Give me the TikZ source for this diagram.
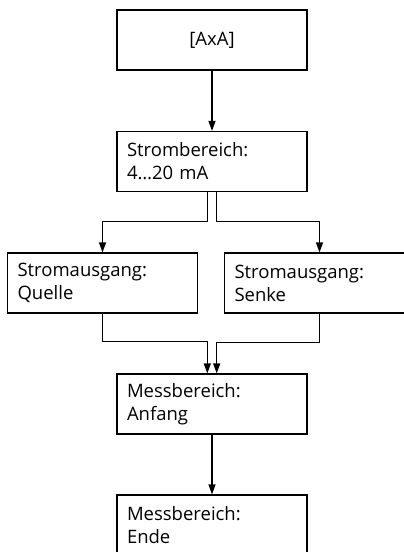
\documentclass[tikz,border=0pt]{standalone}
\usepackage{fontspec}
\setmainfont{Open Sans}
\usetikzlibrary{arrows.meta}
\tikzset{
  box/.style={draw, line width=1.2pt, minimum width=190pt, minimum height=60pt,
    text width=170pt, align=left, inner xsep=10pt,
    font=\fontsize{18.5pt}{23pt}\selectfont},
  arr/.style={line width=1.2pt, -{Triangle[length=10pt,width=7pt]}}
}
\begin{document}
\begin{tikzpicture}
			[x=1pt, y=-1pt]
			\useasboundingbox (0,0) rectangle (404,552);
			\clip (0,0) rectangle (404,552);
			\node[box, align=center] (axa) at (212,40) {[AxA]};
			\node[box] (strom) at (212,161.5) {Strombereich:\\4\ldots20 mA};
			\node[box, minimum width=188pt] (quelle) at (102.5,283) {Stromausgang:\\Quelle};
			\node[box, minimum width=189pt] (senke) at (319.5,283) {Stromausgang:\\Senke};
			\node[box] (anfang) at (212,404) {Messbereich:\\Anfang};
			\node[box] (ende) at (212,525) {Messbereich:\\Ende};
			\draw[arr] (axa) -- (strom);
			\draw[arr] ([xshift=-4.7pt]strom.south) -- ++(0,29) -| (quelle.north);
			\draw[arr] ([xshift=4.7pt]strom.south) -- ++(0,29) -| (senke.north);
			\draw[arr] (quelle.south) -- ++(0,28) -| ([xshift=-4.7pt]anfang.north);
			\draw[arr] (senke.south) -- ++(0,29) -| ([xshift=4.7pt]anfang.north);
			\draw[arr] (anfang) -- (ende);
			\end{tikzpicture}
\end{document}
